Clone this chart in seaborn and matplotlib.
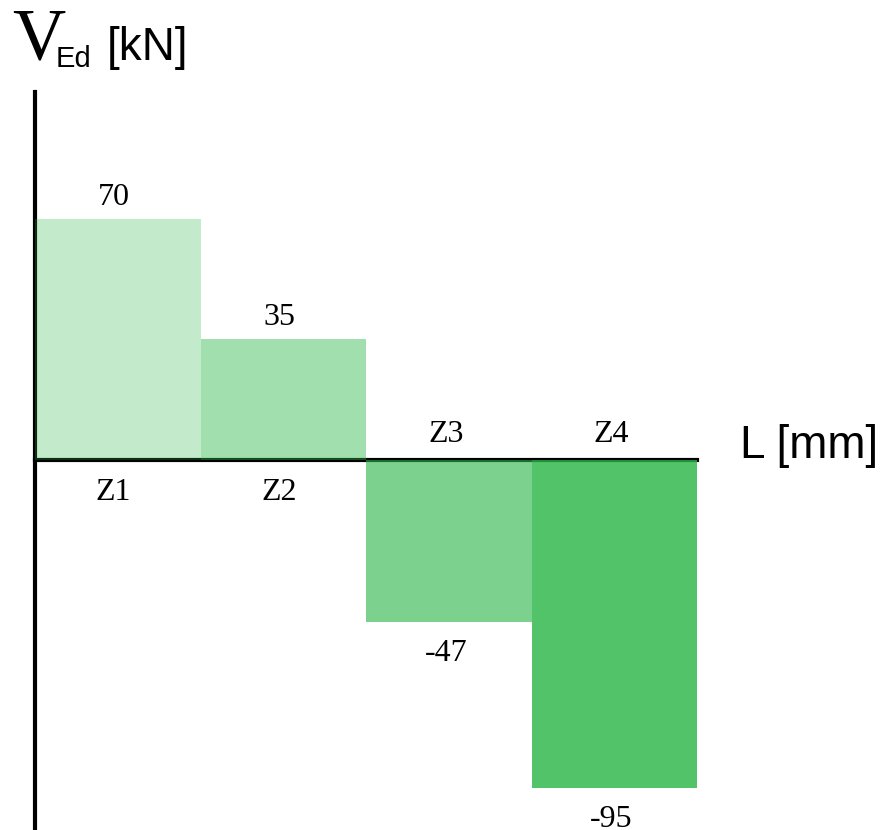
import pandas as pd
import seaborn as sns
import matplotlib.pyplot as plt

# Shear force per zone
zones = ["Z1", "Z2", "Z3", "Z4"]
shear = [70, 35, -47, -95]
alphas = [0.27, 0.43, 0.61, 0.80]
base_green = "#28b545"

df = pd.DataFrame({"Zone": zones, "V": shear})

sns.set_style("white")
plt.rcParams["text.color"] = "black"
W, H = 889, 830
fig = plt.figure(figsize=(W / 100, H / 100), dpi=100)
ax = fig.add_axes([35 / W, 0, (697 - 35) / W, (830 - 92) / H])

sns.barplot(data=df, x="Zone", y="V", color=base_green, width=1.0,
            saturation=1, ax=ax, zorder=3)
for bar, a in zip(ax.patches, alphas):
    bar.set_alpha(a)
    bar.set_edgecolor("none")

ax.set_xlim(-0.5, 3.5)
ax.set_ylim(-107.2, 106.7)

# axes drawn as a cross at the origin
for s in ["top", "right"]:
    ax.spines[s].set_visible(False)
ax.spines["bottom"].set_position(("data", 0))
ax.spines["left"].set_position(("data", -0.5))
for s in ["bottom", "left"]:
    ax.spines[s].set_linewidth(3)
    ax.spines[s].set_color("black")
ax.set_xticks([])
ax.set_yticks([])
ax.set_xlabel("")
ax.set_ylabel("")

serif = "Liberation Serif"
sans = "Liberation Sans"
fs = 23

for i, (z, v) in enumerate(zip(zones, shear)):
    if v >= 0:
        ax.annotate(f"{v}", (i, v), xytext=(-3, 5), textcoords="offset points",
                    ha="center", va="bottom", fontsize=fs, family=serif, color="black")
        ax.annotate(z, (i, 0), xytext=(-3, -13), textcoords="offset points",
                    ha="center", va="top", fontsize=fs, family=serif, color="black")
    else:
        ax.annotate(f"{v}", (i, v), xytext=(-2, -12), textcoords="offset points",
                    ha="center", va="top", fontsize=fs, family=serif, color="black")
        ax.annotate(z, (i, 0), xytext=(-2, 8), textcoords="offset points",
                    ha="center", va="bottom", fontsize=fs, family=serif, color="black")

# axis titles
fig.text(12 / W, 1 - 60 / H, "V", fontsize=53, family=serif, va="baseline")
fig.text(56 / W, 1 - 67 / H, "Ed", fontsize=21, family=sans, va="baseline")
fig.text(107 / W, 1 - 60 / H, "[kN]", fontsize=33, family=sans, va="baseline")
fig.text(740 / W, 1 - 458 / H, "L [mm]", fontsize=33, family=sans, va="baseline")

fig.savefig("out.png", dpi=100)
plt.close(fig)
